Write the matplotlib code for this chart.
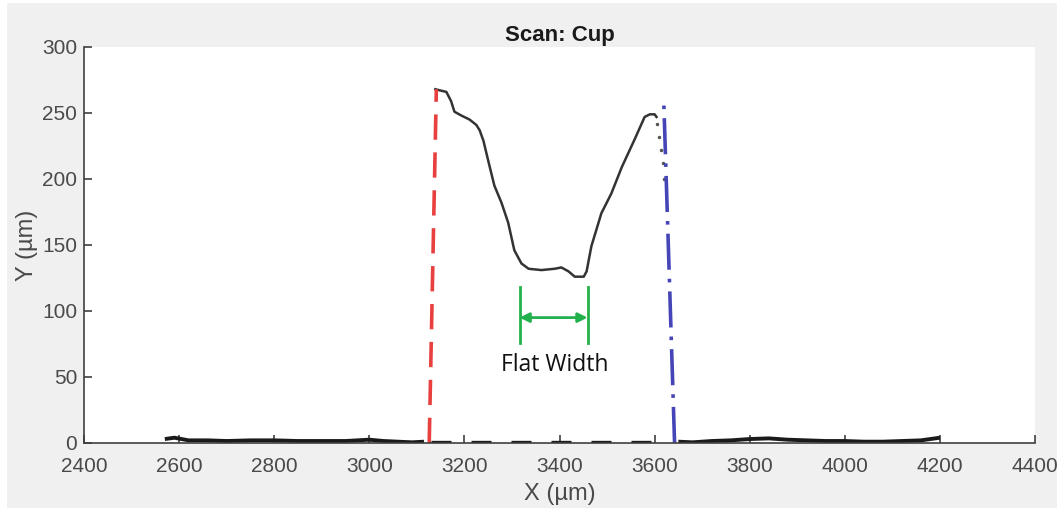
import matplotlib
matplotlib.use("Agg")
import matplotlib.pyplot as plt
from matplotlib.patches import Rectangle

# ---- data (µm) ----
left_base_x = [2570, 2590, 2620, 2660, 2700, 2750, 2800, 2850, 2900, 2950, 3000, 3030, 3060, 3090, 3115]
left_base_y = [3, 4, 2, 2, 1.5, 2, 2, 1.5, 1.5, 1.5, 2.5, 1.5, 1, 0.5, 1]
right_base_x = [3650, 3680, 3720, 3760, 3800, 3840, 3880, 3920, 3960, 4000, 4040, 4080, 4120, 4160, 4200]
right_base_y = [1, 0.5, 1.5, 2, 3, 3.5, 2.5, 2, 1.5, 1.5, 1, 1, 1.5, 2, 4]
gap_x = [3130, 3620]
gap_y = [1, 1]

profile_x = [3139, 3150, 3162, 3172, 3179, 3194, 3211, 3225, 3232, 3240, 3250, 3263, 3278, 3292,
             3305, 3320, 3335, 3362, 3390, 3404, 3419, 3432, 3451, 3457, 3467, 3488, 3509, 3531,
             3558, 3579, 3590, 3600, 3604]
profile_y = [268, 267, 266, 259, 251, 248, 245, 241, 237, 229, 214, 195, 182, 167,
             146, 136, 132, 131, 132, 133, 130, 126, 126, 130, 149, 174, 189, 209,
             230, 247, 249, 249, 247]
tail_x = [3606, 3609, 3613, 3617, 3620]
tail_y = [242, 232, 222, 212, 200]

red_x = [3126, 3141]
red_y = [0, 268]
blue_x = [3642, 3619]
blue_y = [0, 262]

flat_x = [3316, 3459]
flat_lo, flat_hi, flat_arrow_y = 76, 118, 95
flat_label = "Flat Width"
flat_label_xy = (3390, 59)

xticks = [2400, 2600, 2800, 3000, 3200, 3400, 3600, 3800, 4000, 4200, 4400]
yticks = [0, 50, 100, 150, 200, 250, 300]

# ---- figure ----
fig = plt.figure(figsize=(10.62, 5.14), dpi=100, facecolor="white")
fig.patches.append(Rectangle((7 / 1062, 6 / 514), 1050 / 1062, 505 / 514,
                             transform=fig.transFigure, facecolor="#f0f0f0",
                             edgecolor="none", zorder=-10))
ax = fig.add_axes([84 / 1062, 1 - 443 / 514, 951 / 1062, 396 / 514])
ax.set_facecolor("white")

ax.plot(left_base_x, left_base_y, color="#1a1a1a", lw=2.8, solid_capstyle="butt")
ax.plot(right_base_x, right_base_y, color="#1a1a1a", lw=2.8, solid_capstyle="butt")
ax.plot(gap_x, gap_y, color="#1a1a1a", lw=2.4, dashes=(6, 6))
ax.plot(profile_x, profile_y, color="#333333", lw=1.8)
ax.plot(tail_x, tail_y, color="#555555", lw=0, marker=".", ms=3)

ax.plot(red_x, red_y, color="#e8403f", lw=2.6, dashes=(7, 3.5))
ax.plot(blue_x, blue_y, color="#4545b8", lw=2.6, dashes=(10, 2.5, 1, 2.5))

green = "#22b14c"
for fx in flat_x:
    ax.plot([fx, fx], [flat_lo, flat_hi], color=green, lw=2)
ax.annotate("", xy=(flat_x[1], flat_arrow_y), xytext=(flat_x[0], flat_arrow_y),
            arrowprops=dict(arrowstyle="<|-|>", color=green, lw=2,
                            mutation_scale=14, shrinkA=0, shrinkB=0))
ax.text(flat_label_xy[0], flat_label_xy[1], flat_label, ha="center", va="center",
        fontsize=16.5, family="Open Sans", color="#111111")

ax.set_xlim(2400, 4400)
ax.set_ylim(0, 300)
ax.set_xticks(xticks)
ax.set_yticks(yticks)
for s in ["top", "right"]:
    ax.spines[s].set_visible(False)
for s in ["left", "bottom"]:
    ax.spines[s].set_color("#404040")
    ax.spines[s].set_linewidth(1.2)
ax.tick_params(direction="in", length=6, width=1.2, color="#404040",
               labelsize=15, labelcolor="#4a4a4a")
ax.tick_params(axis="x", pad=10)
ax.tick_params(axis="y", pad=5)
for lab in ax.get_xticklabels() + ax.get_yticklabels():
    lab.set_family("Liberation Sans")

ax.set_xlabel("X (µm)", fontsize=17, family="Liberation Sans", color="#4a4a4a", labelpad=5)
ax.set_ylabel("Y (µm)", fontsize=17, family="Liberation Sans", color="#4a4a4a", labelpad=3)
ax.set_title("Scan: Cup", fontsize=16, fontweight="bold", family="Liberation Sans",
             color="#1a1a1a", pad=4)

fig.savefig("out.png", dpi=100, facecolor=fig.get_facecolor())
